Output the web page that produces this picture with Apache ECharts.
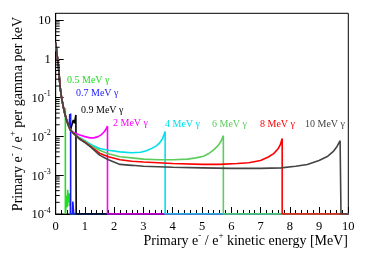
<!DOCTYPE html>
<html><head><meta charset="utf-8">
<script src="https://cdn.jsdelivr.net/npm/echarts@6/dist/echarts.min.js"></script>
<style>html,body{margin:0;padding:0;background:#fff}#c{width:374px;height:253px}</style>
</head><body><div id="c"></div><script>
const FONT = '"Liberation Serif", "DejaVu Serif", serif';

// shared low-energy head of all spectra [E (MeV), value]
const head = [[0.005,2.6],[0.02,2.0],[0.04,1.4],[0.09,0.7],[0.15,0.19],[0.2,0.1],[0.26,0.058],[0.3,0.042]];
const mid = [[0.33,0.034],[0.4,0.023],[0.45,0.018]];
const bundle = [[0.5,0.0147],[0.6,0.0122]];

const s05 = head.concat([[0.32,0.047],[0.33,0.053],[0.33,1e-4],[0.38,1e-4],[0.385,3e-4],[0.395,1.5e-4],[0.41,4.2e-4],[0.42,2e-4],[0.44,2.6e-4],[0.46,3.4e-4],[0.47,1.6e-4],[0.49,2e-4],[0.5,1.4e-4],[0.5,1e-4],[10,1e-4]]);
const s07 = head.concat(mid, [[0.47,0.024],[0.48,0.038],[0.49,0.027],[0.51,0.039],[0.51,1e-4],[0.58,1e-4],[0.585,2.1e-4],[0.61,2.1e-4],[0.615,1e-4],[10,1e-4]]);
const s09 = head.concat(mid, [[0.5,0.0147],[0.55,0.0195],[0.6,0.0265],[0.64,0.022],[0.69,0.036],[0.70,0.034],[0.70,1e-4],[10,1e-4]]);
const s2 = head.concat(mid, [[0.5,0.0147],[0.6,0.0128],[0.8,0.011],[1.0,0.0099],[1.17,0.0092],[1.3,0.0092],[1.45,0.0099],[1.55,0.011],[1.65,0.013],[1.72,0.0155],[1.77,0.0185],[1.77,1e-4],[10,1e-4]]);
const s4 = head.concat(mid, bundle, [[0.8,0.0095],[1.0,0.0078],[1.2,0.0062],[1.5,0.0049],[1.8,0.0044],[2.2,0.0040],[2.6,0.0038],[2.9,0.0039],[3.1,0.0043],[3.3,0.0050],[3.45,0.0058],[3.55,0.0068],[3.65,0.0087],[3.74,0.0135],[3.74,1e-4],[10,1e-4]]);
const s6 = head.concat(mid, bundle, [[0.8,0.0092],[1.0,0.0074],[1.2,0.0058],[1.5,0.0044],[1.8,0.0036],[2.2,0.0030],[2.6,0.0028],[3.0,0.0026],[3.5,0.0025],[4.0,0.0025],[4.5,0.0026],[4.8,0.0028],[5.05,0.0031],[5.25,0.0037],[5.4,0.0045],[5.55,0.0058],[5.65,0.0075],[5.73,0.0105],[5.73,1e-4],[10,1e-4]]);
const s8 = head.concat(mid, bundle, [[0.8,0.0089],[1.0,0.0071],[1.2,0.0055],[1.5,0.0037],[1.8,0.0030],[2.2,0.0025],[2.6,0.0023],[3.0,0.0022],[4.0,0.0020],[5.0,0.0019],[5.6,0.0019],[6.2,0.0020],[6.6,0.0021],[7.0,0.0024],[7.25,0.0029],[7.45,0.0036],[7.6,0.0048],[7.68,0.0062],[7.74,0.0089],[7.74,1e-4],[10,1e-4]]);
const s10 = head.concat(mid, bundle, [[0.8,0.0087],[1.0,0.0069],[1.2,0.0053],[1.5,0.0033],[1.8,0.0025],[2.2,0.0019],[2.6,0.0018],[3.0,0.0017],[4.0,0.0016],[5.0,0.00155],[6.0,0.0015],[7.0,0.0015],[7.7,0.00155],[8.2,0.0017],[8.6,0.0019],[9.0,0.0024],[9.3,0.0031],[9.5,0.0042],[9.62,0.0056],[9.72,0.0078],[9.75,0.0075],[9.75,1e-4],[10,1e-4]]);

const seriesData = [s05, s07, s09, s2, s4, s6, s8, s10];
const seriesNames = ['0.5 MeV γ','0.7 MeV γ','0.9 MeV γ','2 MeV γ','4 MeV γ','6 MeV γ','8 MeV γ','10 MeV γ'];
const lineColors = ['#22dd22','#1a1aff','#000000','#ff00ff','#00e0e8','#5ccc5c','#ff0000','#444444'];
const labelPos = [[67,80],[76,93],[81,110],[113,123],[165,124],[212,124],[260,124],[305,124]];
const minorTickValues = [2e-4,3e-4,4e-4,5e-4,6e-4,7e-4,8e-4,9e-4,2e-3,3e-3,4e-3,5e-3,6e-3,7e-3,8e-3,9e-3,0.02,0.03,0.04,0.05,0.06,0.07,0.08,0.09,0.2,0.3,0.4,0.5,0.6,0.7,0.8,0.9,2,3,4,5,6,7,8,9];

const chart = echarts.init(document.getElementById('c'), null, {renderer:'canvas'});
const series = seriesData.map((d,i)=>({
  type:'line', name: seriesNames[i], data:d, showSymbol:false, symbol:'none',
  lineStyle:{color:lineColors[i], width:1.6}, z: 3+i, animation:false, clip:true
}));
series.push({
  type:'custom', data: minorTickValues.map(v=>[0,v]), z: 20, animation:false, silent:true,
  renderItem: (params, api) => {
    const p = api.coord([0, api.value(1)]);
    return {type:'line', shape:{x1:p[0], y1:p[1], x2:p[0]+4, y2:p[1]}, style:{stroke:'#000', lineWidth:1}};
  }
});

const rich = {
  b:{fontFamily:FONT, fontSize:14, lineHeight:17, verticalAlign:'bottom', fill:'#000'},
  s:{fontFamily:FONT, fontSize:9, lineHeight:9, verticalAlign:'top', fill:'#000'}
};

const graphic = seriesNames.map((n,i)=>({
  type:'text', x:labelPos[i][0], y:labelPos[i][1], z:50,
  style:{text:n, fill:lineColors[i], font:'10px ' + FONT, align:'left', verticalAlign:'middle'}
}));
graphic.push({
  type:'text', x:348, y:240, z:50,
  style:{text:'{b|Primary e}{s|-}{b| / e}{s|+}{b| kinetic energy [MeV]}', rich:rich, align:'right', verticalAlign:'middle'}
});
graphic.push({
  type:'text', x:17, y:114, rotation:Math.PI/2, z:50,
  style:{text:'{b|Primary e}{s|-}{b| / e}{s|+}{b| per gamma per keV}', rich:rich, align:'center', verticalAlign:'middle'}
});

chart.setOption({
  animation:false,
  backgroundColor:'#fff',
  grid:{left:55.7, right:25.7, top:13.3, bottom:39, show:true, borderColor:'#000', borderWidth:1, containLabel:false},
  xAxis:{type:'value', min:0, max:10, interval:1,
    axisLine:{show:true, lineStyle:{color:'#000'}},
    axisTick:{inside:true, length:7, lineStyle:{color:'#000'}},
    minorTick:{show:true, splitNumber:5, length:4, lineStyle:{color:'#000'}},
    splitLine:{show:false},
    axisLabel:{color:'#000', fontFamily:FONT, fontSize:12.5, margin:6}
  },
  yAxis:{type:'log', logBase:10, min:1e-4, max:15,
    axisLine:{show:true, lineStyle:{color:'#000'}},
    axisTick:{inside:true, length:8, lineStyle:{color:'#000'}},
    splitLine:{show:false},
    axisLabel:{color:'#000', margin:5, showMaxLabel:false,
      formatter:(v)=>{
        const k = Math.round(Math.log10(v));
        if (Math.abs(Math.log10(v)-k) > 1e-6) return '';
        if (k === 0) return '{b|1}';
        if (k === 1) return '{b|10}';
        return '{b|10}{s|' + k + '}';
      },
      rich:{
        b:{fontFamily:FONT, fontSize:12.5, lineHeight:15, verticalAlign:'bottom', color:'#000'},
        s:{fontFamily:FONT, fontSize:8, lineHeight:8, verticalAlign:'top', color:'#000'}
      }
    }
  },
  series:series,
  graphic:graphic
});
</script></body></html>
